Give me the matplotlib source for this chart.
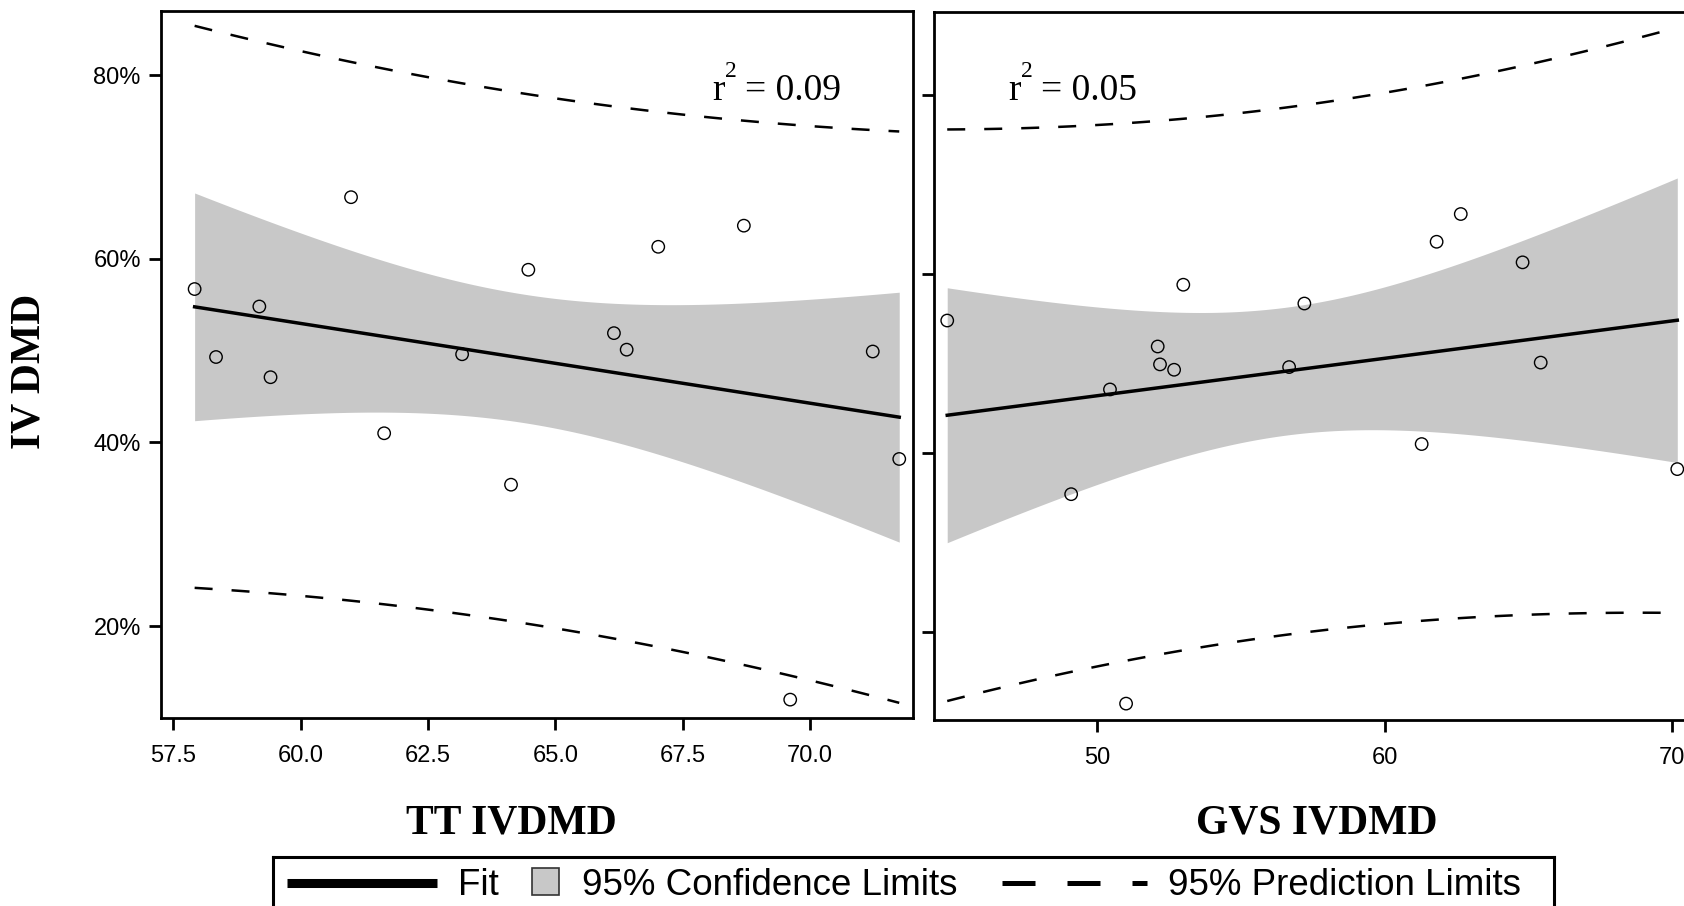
import numpy as np
import matplotlib
matplotlib.use("Agg")
import matplotlib.pyplot as plt
from matplotlib.ticker import FuncFormatter
from matplotlib.patches import Rectangle

# IV DMD (%) of the 16 subjects, same values in both panels
iv_dmd = [56.7, 49.3, 54.8, 47.1, 66.7, 41.0, 49.6, 35.4,
          58.8, 51.9, 50.1, 61.3, 63.6, 12.0, 49.9, 38.2]
tt_ivdmd = [57.92, 58.34, 59.19, 59.41, 60.99, 61.64, 63.17, 64.13,
            64.47, 66.15, 66.40, 67.02, 68.70, 69.61, 71.23, 71.75]
gvs_ivdmd = [57.21, 52.68, 44.79, 50.45, 62.65, 61.29, 56.68, 49.10,
             53.00, 52.11, 65.43, 64.80, 61.81, 51.01, 52.19, 70.18]

y_ticks = [20, 40, 60, 80]
tt_ticks = [57.5, 60.0, 62.5, 65.0, 67.5, 70.0]
gvs_ticks = [50, 60, 70]
x_labels = ["TT IVDMD", "GVS IVDMD"]
r2_labels = ["0.09", "0.05"]

T_CRIT = 2.145  # t quantile 0.975, df = 14
BAND = "#c8c8c8"
W, H = 1684, 906

plt.rcParams['font.family'] = ['Liberation Sans', 'DejaVu Sans']


def fx(px):
    return px / W


def fy(py):
    return 1 - py / H


def fit_bands(x, y, n_grid=120):
    x = np.asarray(x, dtype=float)
    y = np.asarray(y, dtype=float)
    n = len(x)
    slope, icpt = np.polyfit(x, y, 1)
    resid = y - (slope * x + icpt)
    s = np.sqrt(np.sum(resid ** 2) / (n - 2))
    sxx = np.sum((x - x.mean()) ** 2)
    xg = np.linspace(x.min(), x.max(), n_grid)
    yg = slope * xg + icpt
    h_ci = T_CRIT * s * np.sqrt(1 / n + (xg - x.mean()) ** 2 / sxx)
    h_pi = T_CRIT * s * np.sqrt(1 + 1 / n + (xg - x.mean()) ** 2 / sxx)
    return xg, yg, h_ci, h_pi


def draw_panel(ax, x, y):
    xg, yg, h_ci, h_pi = fit_bands(x, y)
    ax.fill_between(xg, yg - h_ci, yg + h_ci, color=BAND, lw=0, zorder=1)
    ax.plot(xg, yg, color='black', lw=2.5, zorder=3)
    for sign in (1, -1):
        ax.plot(xg, yg + sign * h_pi, color='black', lw=1.8,
                dashes=(7.2, 7.6), zorder=3)
    ax.scatter(x, y, s=80, facecolors='none', edgecolors='black',
               linewidths=1.0, zorder=4)
    for sp in ax.spines.values():
        sp.set_linewidth(2)
    ax.tick_params(direction='out', length=8.5, width=2, labelsize=17, pad=6)
    ax.tick_params(axis='x', pad=11)
    ax.set_yticks(y_ticks)


fig = plt.figure(figsize=(W / 100, H / 100), dpi=100)

ax1 = fig.add_axes([fx(161), fy(718), fx(913 - 161), (718 - 11) / H])
draw_panel(ax1, tt_ivdmd, iv_dmd)
ax1.set_xlim(57.26, 72.02)
ax1.set_ylim(10.0, 86.97)
ax1.set_xticks(tt_ticks)
ax1.xaxis.set_major_formatter(FuncFormatter(lambda v, p: f"{v:.1f}"))
ax1.yaxis.set_major_formatter(FuncFormatter(lambda v, p: f"{v:.0f}%"))

ax2 = fig.add_axes([fx(934), fy(720), fx(1700 - 934), (720 - 12) / H])
draw_panel(ax2, gvs_ivdmd, iv_dmd)
ax2.set_xlim(44.33, 70.97)
ax2.set_ylim(10.17, 89.27)
ax2.set_xticks(gvs_ticks)
ax2.set_yticklabels([])

# axis titles
serif = ['Liberation Serif', 'DejaVu Serif']
fig.text(fx(30), fy(371), "IV DMD", rotation=90, ha='center', va='center',
         fontsize=30, fontweight='bold', family=serif)
fig.text(fx(511), fy(834), x_labels[0], ha='center', va='baseline',
         fontsize=30, fontweight='bold', family=serif)
fig.text(fx(1317), fy(834), x_labels[1], ha='center', va='baseline',
         fontsize=30, fontweight='bold', family=serif)

# r^2 annotations
for x0, lab in zip([712, 1008], r2_labels):
    fig.text(fx(x0), fy(100), "r", fontsize=27, family=serif, va='baseline')
    fig.text(fx(x0 + 13), fy(77), "2", fontsize=17, family=serif, va='baseline')
    fig.text(fx(x0 + 33), fy(100), "= " + lab, fontsize=27, family=serif,
             va='baseline')

# legend box along the bottom
lx0, lx1, ly0, ly1 = 273, 1554, 857, 920
lax = fig.add_axes([fx(lx0), fy(ly1), fx(lx1 - lx0), (ly1 - ly0) / H])
lax.set_xlim(0, lx1 - lx0)
lax.set_ylim(0, ly1 - ly0)
lax.set_xticks([])
lax.set_yticks([])
for sp in lax.spines.values():
    sp.set_linewidth(2.2)
ly_line = (ly1 - ly0) - (883 - ly0)
ly_text = (ly1 - ly0) - (895 - ly0)
lax.plot([14, 164], [ly_line, ly_line], color='black', lw=6.5,
         solid_capstyle='butt')
lax.text(185, ly_text, "Fit", fontsize=26.5, va='baseline')
lax.add_patch(Rectangle((259, ly_text), 27, 27, facecolor=BAND,
                        edgecolor='#333333', lw=1.2))
lax.text(309, ly_text, "95% Confidence Limits", fontsize=26.5, va='baseline')
lax.plot([729, 874], [ly_line, ly_line], color='black', lw=3.6,
         dashes=(6.6, 6.4), dash_capstyle='butt')
lax.text(895, ly_text, "95% Prediction Limits", fontsize=26.5, va='baseline')

fig.savefig("out.png", dpi=100)
